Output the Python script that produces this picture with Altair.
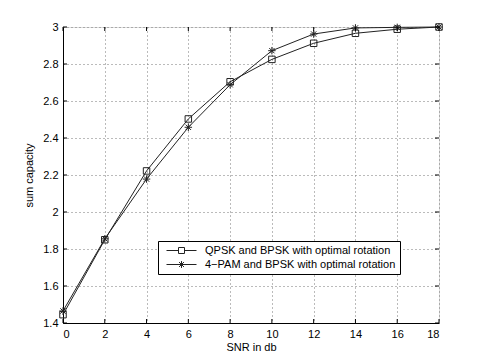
import altair as alt
import pandas as pd

snr = [0, 2, 4, 6, 8, 10, 12, 14, 16, 18]
qpsk = [1.445, 1.850, 2.222, 2.503, 2.704, 2.825, 2.912, 2.966, 2.988, 3.0]
pam = [1.465, 1.855, 2.178, 2.458, 2.688, 2.872, 2.962, 2.995, 2.998, 3.0]
series_names = ["QPSK and BPSK with optimal rotation", "4\u2212PAM and BPSK with optimal rotation"]
x_ticks = [0, 2, 4, 6, 8, 10, 12, 14, 16, 18]
y_ticks = [1.4, 1.6, 1.8, 2.0, 2.2, 2.4, 2.6, 2.8, 3.0]

W, H = 376, 296
FONT = "Liberation Sans"

rows = []
for name, vals in zip(series_names, [qpsk, pam]):
    for s, v in zip(snr, vals):
        rows.append({"snr": s, "cap": v, "series": name})
df = pd.DataFrame(rows)
xt = pd.DataFrame({"snr": x_ticks})
yt = pd.DataFrame({"cap": y_ticks})

SQUARE = "M-1,-1H1V1H-1Z"
STAR = "M-1.15,0H1.15M0,-1.15V1.15M-0.82,-0.82L0.82,0.82M-0.82,0.82L0.82,-0.82"
LEG_SQ = "M-5,0H-1M1,0H5" + SQUARE
LEG_ST = "M-5,0H5" + STAR

xs = alt.Scale(domain=[0, 18], nice=False)
ys = alt.Scale(domain=[1.4, 3.0], nice=False)

xax = alt.Axis(values=x_ticks, grid=True, gridDash=[1, 3], gridColor="#777", gridOpacity=1,
               ticks=False, domainColor="black", labelFontSize=11, labelFont=FONT, labelColor="black",
               labelPadding=5, labelOverlap=False, title="SNR in db", titleFont=FONT, titleFontSize=11,
               titleFontWeight="normal", titleColor="black", titlePadding=2)
yax = alt.Axis(values=y_ticks, grid=True, gridDash=[1, 3], gridColor="#777", gridOpacity=1,
               ticks=False, domainColor="black", labelFontSize=11, labelFont=FONT, labelColor="black",
               labelPadding=5, labelOverlap=False, labelExpr="format(datum.value, '.1~f')",
               title="sum capacity", titleFont=FONT,
               titleFontSize=11, titleFontWeight="normal", titleColor="black", titlePadding=8)

X = alt.X("snr:Q", scale=xs, axis=xax)
Y = alt.Y("cap:Q", scale=ys, axis=yax)

lines = alt.Chart(df).mark_line(color="#222", strokeWidth=1).encode(
    x=X, y=Y, detail="series:N",
)
points = alt.Chart(df).mark_point(filled=False, color="#222", strokeWidth=1, opacity=1, size=42).encode(
    x=X, y=Y,
    shape=alt.Shape("series:N", scale=alt.Scale(domain=series_names, range=[SQUARE, STAR]), legend=None),
)
legend_layer = alt.Chart(df).transform_filter("false").mark_point(
    filled=False, color="#222", strokeWidth=1, opacity=1, size=42).encode(
    x=X, y=Y,
    shape=alt.Shape("series:N", scale=alt.Scale(domain=series_names, range=[LEG_SQ, LEG_ST]),
                    legend=alt.Legend(title=None, orient="none", legendX=95, legendY=214,
                                      labelFont=FONT, labelFontSize=11, labelColor="black",
                                      labelLimit=400, symbolSize=36,
                                      symbolOffset=14, labelOffset=18, padding=4, rowPadding=2,
                                      fillColor="white", strokeColor="black",
                                      symbolStrokeColor="#222", symbolStrokeWidth=1)),
)

bt = alt.Chart(xt).mark_rule(color="black").encode(x=X, y=alt.value(H), y2=alt.value(H - 4))
tt = alt.Chart(xt).mark_rule(color="black").encode(x=X, y=alt.value(0), y2=alt.value(4))
lt = alt.Chart(yt).mark_rule(color="black").encode(y=Y, x=alt.value(0), x2=alt.value(4))
rt = alt.Chart(yt).mark_rule(color="black").encode(y=Y, x=alt.value(W), x2=alt.value(W - 4))

chart = alt.layer(lines, points, legend_layer, bt, tt, lt, rt).resolve_scale(shape="independent").properties(
    width=W, height=H,
    padding={"left": 55, "top": 19, "right": 38, "bottom": 33},
    autosize=alt.AutoSizeParams(type="none"),
).configure_view(stroke="black", strokeWidth=1).configure(background="white")

chart.save("out.html", embed_options={"renderer": "svg", "actions": False})
